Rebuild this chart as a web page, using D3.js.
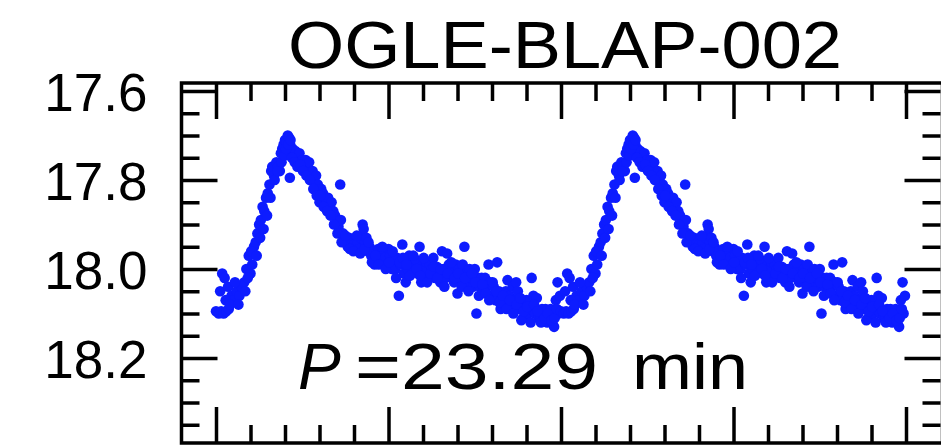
<!DOCTYPE html>
<html>
<head>
<meta charset="utf-8">
<script src="https://cdn.jsdelivr.net/npm/d3@7"></script>
<style>
  html, body { margin: 0; padding: 0; background: #fff; }
  svg { display: block; }
</style>
</head>
<body>
<svg id="chart" width="941" height="447"></svg>
<script>
// ---- data (one pulsation cycle, phase 0..1; plotted twice) ----
const titleText = "OGLE-BLAP-002";
const periodLabel = ["P", "=23.29", "min"];
const yMajorTicks = [17.6, 17.8, 18.0, 18.2];
const yMinorTicks = [17.65, 17.7, 17.75, 17.85, 17.9, 17.95, 18.05, 18.1, 18.15, 18.25, 18.3, 18.35];
const xMajorTicks = [0, 0.5, 1.0, 1.5, 2.0];
const xMinorTicks = [0.1, 0.2, 0.3, 0.4, 0.6, 0.7, 0.8, 0.9, 1.1, 1.2, 1.3, 1.4, 1.6, 1.7, 1.8, 1.9];
const cycles = [0, 1];

const phase = [
  0.000, 0.008, 0.015, 0.022, 0.030, 0.037, 0.012, 0.018, 0.025, 0.035,
  0.045, 0.052, 0.060, 0.068, 0.075, 0.082, 0.088, 0.095, 0.100, 0.105,
  0.110, 0.115, 0.120, 0.125, 0.130, 0.135, 0.140, 0.145, 0.150, 0.155,
  0.160, 0.163, 0.168, 0.175, 0.180, 0.185, 0.188, 0.192, 0.196, 0.200,
  0.204, 0.208, 0.212, 0.215, 0.218, 0.214, 0.222, 0.226, 0.230, 0.234,
  0.238, 0.242, 0.246, 0.250, 0.255, 0.260, 0.265, 0.270, 0.275, 0.280,
  0.285, 0.290, 0.295, 0.300, 0.305, 0.310, 0.315, 0.320, 0.325, 0.330,
  0.335, 0.340, 0.345, 0.350, 0.355, 0.360, 0.362, 0.368, 0.372, 0.378,
  0.382, 0.386, 0.390, 0.395, 0.400, 0.405, 0.410, 0.415, 0.420, 0.425,
  0.428, 0.432, 0.436, 0.440, 0.445, 0.450, 0.455, 0.460, 0.465, 0.470,
  0.475, 0.480, 0.485, 0.490, 0.495, 0.500, 0.505, 0.510, 0.515, 0.520,
  0.525, 0.530, 0.535, 0.540, 0.545, 0.550, 0.555, 0.560, 0.565, 0.570,
  0.575, 0.580, 0.585, 0.590, 0.595, 0.600, 0.605, 0.610, 0.615, 0.620,
  0.625, 0.630, 0.635, 0.640, 0.645, 0.650, 0.655, 0.660, 0.665, 0.670,
  0.675, 0.680, 0.685, 0.690, 0.695, 0.700, 0.705, 0.710, 0.715, 0.720,
  0.725, 0.730, 0.735, 0.740, 0.745, 0.750, 0.755, 0.760, 0.765, 0.770,
  0.775, 0.780, 0.785, 0.790, 0.795, 0.800, 0.805, 0.810, 0.815, 0.820,
  0.825, 0.830, 0.835, 0.840, 0.845, 0.850, 0.855, 0.860, 0.865, 0.870,
  0.875, 0.880, 0.885, 0.890, 0.895, 0.900, 0.905, 0.910, 0.915, 0.920,
  0.925, 0.930, 0.935, 0.940, 0.945, 0.950, 0.955, 0.960, 0.965, 0.970,
  0.975, 0.980, 0.985, 0.990, 0.993, 0.997,
  0.028, 0.040, 0.055, 0.065, 0.085, 0.092, 0.102, 0.118, 0.128, 0.138,
  0.148, 0.158, 0.170, 0.178, 0.190, 0.198, 0.203, 0.210, 0.216, 0.220,
  0.228, 0.236, 0.244, 0.252, 0.262, 0.272, 0.282, 0.292, 0.302, 0.312,
  0.322, 0.332, 0.342, 0.352, 0.364, 0.375, 0.388, 0.398, 0.408, 0.418,
  0.430, 0.442, 0.452, 0.462, 0.472, 0.482, 0.492, 0.502, 0.512, 0.522,
  0.532, 0.542, 0.552, 0.562, 0.572, 0.582, 0.592, 0.602, 0.612, 0.622,
  0.632, 0.642, 0.652, 0.662, 0.672, 0.682, 0.692, 0.702, 0.712, 0.722,
  0.732, 0.742, 0.752, 0.762, 0.772, 0.782, 0.792, 0.802, 0.812, 0.822,
  0.832, 0.842, 0.852, 0.862, 0.872, 0.882, 0.892, 0.902, 0.912, 0.922,
  0.932, 0.942, 0.952, 0.962, 0.972, 0.982, 0.988
];
const mag = [
  18.095, 18.100, 18.095, 18.100, 18.095, 18.090, 18.050, 18.010, 18.020, 18.040,
  18.060, 18.070, 18.050, 18.060, 18.040, 18.030, 18.000, 17.970, 18.010, 17.990,
  17.950, 17.940, 17.920, 17.900, 17.890, 17.860, 17.870, 17.840, 17.830, 17.810,
  17.780, 17.770, 17.790, 17.760, 17.770, 17.780, 17.740, 17.730, 17.720, 17.710,
  17.715, 17.700, 17.705, 17.720, 17.740, 17.795, 17.730, 17.750, 17.735, 17.750,
  17.760, 17.740, 17.760, 17.755, 17.770, 17.755, 17.780, 17.760, 17.790, 17.780,
  17.800, 17.790, 17.810, 17.850, 17.820, 17.830, 17.840, 17.850, 17.840, 17.860,
  17.850, 17.870, 17.880, 17.900, 17.905, 17.810, 17.890, 17.920, 17.940, 17.935,
  17.950, 17.930, 17.940, 17.935, 17.945, 17.950, 17.940, 17.955, 17.930, 17.900,
  17.910, 17.940, 17.930, 17.960, 17.950, 17.970, 17.960, 17.990, 17.980, 17.955,
  17.970, 17.985, 17.960, 17.975, 17.990, 17.955, 17.970, 18.000, 17.980, 18.000,
  17.975, 18.060, 17.990, 17.945, 18.010, 18.030, 18.000, 17.970, 17.985, 18.000,
  17.990, 17.980, 18.010, 17.950, 18.030, 17.990, 18.000, 17.985, 18.020, 17.990,
  18.000, 17.975, 18.020, 17.995, 18.010, 18.030, 17.960, 18.000, 18.020, 17.965,
  17.990, 18.010, 18.000, 18.030, 17.990, 18.055, 18.000, 18.020, 17.990, 17.950,
  18.010, 18.030, 18.000, 18.020, 18.040, 18.000, 18.100, 18.020, 18.040, 18.020,
  18.050, 18.020, 18.040, 17.990, 18.030, 18.060, 18.040, 18.070, 17.985, 18.050,
  18.090, 18.070, 18.080, 18.050, 18.025, 18.060, 18.080, 18.040, 18.070, 18.030,
  18.050, 18.090, 18.115, 18.110, 18.080, 18.070, 18.100, 18.090, 18.020, 18.060,
  18.100, 18.065, 18.110, 18.110, 18.090, 18.105, 18.090, 18.120, 18.100, 18.090,
  18.120, 18.130, 18.070, 18.030, 18.100, 18.060,
  18.070, 18.080, 18.030, 18.080, 18.050, 18.020, 17.960, 17.970, 17.930, 17.910,
  17.880, 17.840, 17.800, 17.780, 17.760, 17.745, 17.730, 17.720, 17.710, 17.750,
  17.760, 17.770, 17.765, 17.780, 17.790, 17.800, 17.820, 17.835, 17.835, 17.860,
  17.870, 17.880, 17.900, 17.920, 17.940, 17.925, 17.955, 17.960, 17.925, 17.965,
  17.955, 17.940, 17.985, 17.970, 17.990, 17.950, 18.000, 17.985, 17.960, 18.020,
  17.985, 17.975, 17.990, 18.015, 17.970, 18.000, 18.015, 17.975, 18.030, 18.010,
  17.995, 18.020, 18.000, 18.040, 18.010, 17.985, 18.020, 18.010, 18.040, 18.020,
  18.050, 18.010, 18.030, 18.060, 18.035, 18.055, 18.070, 18.030, 18.050, 18.075,
  18.060, 18.090, 18.070, 18.100, 18.080, 18.065, 18.095, 18.085, 18.120, 18.080,
  18.095, 18.120, 18.110, 18.100, 18.115, 18.110, 18.090
];

// ---- layout ----
const svg = d3.select("#chart");
const x = d3.scaleLinear().domain([-0.1, 2.1]).range([181.5, 940.5]);
const y = d3.scaleLinear().domain([17.582, 18.391]).range([83, 443]);

const fontFam = "'Liberation Sans', Arial, Helvetica, sans-serif";
const majorLen = 36, minorLen = 18, tickW = 3.5;

// points
const pts = [];
cycles.forEach(c => phase.forEach((p, i) => pts.push({p: p + c, m: mag[i]})));
svg.append("g").selectAll("circle").data(pts).join("circle")
  .attr("cx", d => x(d.p)).attr("cy", d => y(d.m)).attr("r", 5.3)
  .attr("fill", "#0d1cff");

function styleAxis(g) {
  g.select(".domain").remove();
  g.selectAll(".tick line").attr("stroke", "#000").attr("stroke-width", tickW);
}

// left axis (major with labels)
svg.append("g").attr("transform", `translate(${x(-0.1)},0)`)
  .call(d3.axisLeft(y).tickValues(yMajorTicks).tickSizeInner(-majorLen).tickSizeOuter(0)
        .tickPadding(34).tickFormat(d3.format(".1f")))
  .call(styleAxis)
  .call(g => g.selectAll("text").attr("font-family", fontFam).attr("font-size", 53)
        .attr("fill", "#000").attr("dy", "0.36em"));
svg.append("g").attr("transform", `translate(${x(-0.1)},0)`)
  .call(d3.axisLeft(y).tickValues(yMinorTicks).tickSizeInner(-minorLen).tickSizeOuter(0).tickFormat(""))
  .call(styleAxis);
// right axis
svg.append("g").attr("transform", `translate(${x(2.1)},0)`)
  .call(d3.axisRight(y).tickValues(yMajorTicks).tickSizeInner(-majorLen).tickSizeOuter(0).tickFormat(""))
  .call(styleAxis);
svg.append("g").attr("transform", `translate(${x(2.1)},0)`)
  .call(d3.axisRight(y).tickValues(yMinorTicks).tickSizeInner(-minorLen).tickSizeOuter(0).tickFormat(""))
  .call(styleAxis);
// top axis
svg.append("g").attr("transform", `translate(0,${y(17.582)})`)
  .call(d3.axisTop(x).tickValues(xMajorTicks).tickSizeInner(-majorLen).tickSizeOuter(0).tickFormat(""))
  .call(styleAxis);
svg.append("g").attr("transform", `translate(0,${y(17.582)})`)
  .call(d3.axisTop(x).tickValues(xMinorTicks).tickSizeInner(-minorLen).tickSizeOuter(0).tickFormat(""))
  .call(styleAxis);
// bottom axis
svg.append("g").attr("transform", `translate(0,${y(18.391)})`)
  .call(d3.axisBottom(x).tickValues(xMajorTicks).tickSizeInner(-majorLen).tickSizeOuter(0).tickFormat(""))
  .call(styleAxis);
svg.append("g").attr("transform", `translate(0,${y(18.391)})`)
  .call(d3.axisBottom(x).tickValues(xMinorTicks).tickSizeInner(-minorLen).tickSizeOuter(0).tickFormat(""))
  .call(styleAxis);

// frame
svg.append("rect")
  .attr("x", x(-0.1)).attr("y", y(17.582))
  .attr("width", x(2.1) - x(-0.1) + 2).attr("height", y(18.391) - y(17.582))
  .attr("fill", "none").attr("stroke", "#000").attr("stroke-width", 3.5);

// title
svg.append("text").attr("x", 288).attr("y", 68)
  .attr("font-family", fontFam).attr("font-size", 66).attr("fill", "#000")
  .attr("textLength", 554).attr("lengthAdjust", "spacingAndGlyphs")
  .text(titleText);

// period annotation
svg.append("text").attr("x", 298).attr("y", 389)
  .attr("font-family", fontFam).attr("font-size", 64).attr("font-style", "italic")
  .attr("fill", "#000").text(periodLabel[0]);
svg.append("text").attr("x", 355).attr("y", 389)
  .attr("font-family", fontFam).attr("font-size", 64).attr("fill", "#000")
  .attr("textLength", 243).attr("lengthAdjust", "spacingAndGlyphs")
  .text(periodLabel[1]);
svg.append("text").attr("x", 632).attr("y", 389)
  .attr("font-family", fontFam).attr("font-size", 64).attr("fill", "#000")
  .attr("textLength", 116).attr("lengthAdjust", "spacingAndGlyphs")
  .text(periodLabel[2]);
</script>
</body>
</html>
